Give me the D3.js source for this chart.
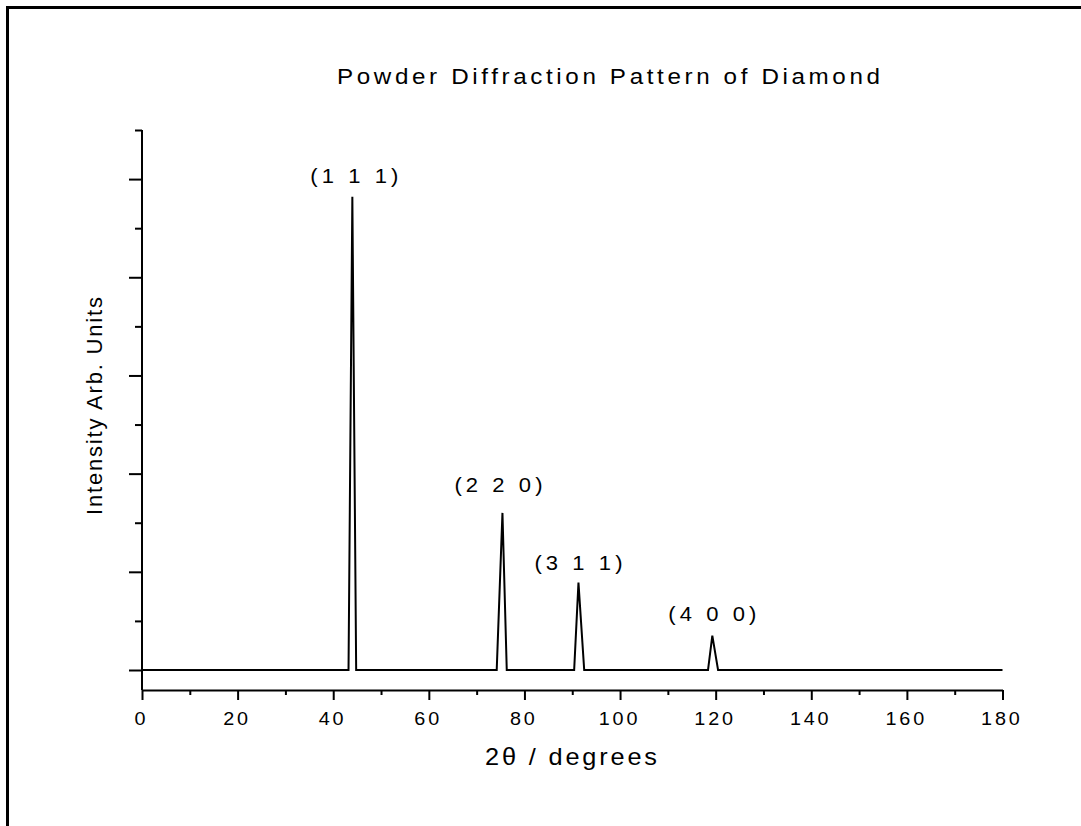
<!DOCTYPE html>
<html>
<head>
<meta charset="utf-8">
<script src="https://cdn.jsdelivr.net/npm/d3@7/dist/d3.min.js"></script>
<style>
  html, body { margin: 0; padding: 0; background: #fff; }
  svg { display: block; }
  text { font-family: "Liberation Sans", Arial, sans-serif; fill: #000; }
</style>
</head>
<body>
<svg id="chart" width="1081" height="826"></svg>
<script>
// Diffractogram trace: 2θ (degrees) and relative intensity
const twoTheta  = [0, 43.2, 44.0, 44.8, 74.2, 75.4, 76.3, 90.4, 91.3, 92.5, 118.4, 119.3, 120.5, 180];
const intensity = [0, 0,    4.82, 0,    0,    1.60, 0,    0,    0.89, 0,    0,     0.35,  0,     0];

// Miller indices of the reflections and their peak positions
const reflections   = ["(1 1 1)", "(2 2 0)", "(3 1 1)", "(4 0 0)"];
const peakTwoTheta  = [44.0, 75.4, 91.3, 119.3];
const peakIntensity = [4.82, 1.60, 0.89, 0.35];

// Axis ticks
const xMajorTicks = [0, 20, 40, 60, 80, 100, 120, 140, 160, 180];
const xMinorTicks = [10, 30, 50, 70, 90, 110, 130, 150, 170];
const yMajorTicks = [0, 1, 2, 3, 4, 5];
const yMinorTicks = [0.5, 1.5, 2.5, 3.5, 4.5, 5.5];

const titleText = "Powder Diffraction Pattern of Diamond";
const xTitle = "2\u03B8 / degrees";
const yTitle = "Intensity Arb. Units";

// slight horizontal widening of the lettering
const SX = 1.1;

const svg = d3.select("#chart");

// page frame (top and left edges)
svg.append("path")
  .attr("d", "M7.5,826 L7.5,7.5 L1081,7.5")
  .attr("fill", "none").attr("stroke", "#000").attr("stroke-width", 3);

const x = d3.scaleLinear().domain([0, 180]).range([142, 1002.5]);
const y = d3.scaleLinear().domain([0, 5.5]).range([670, 130]);
const xAxisY = 690;

// spaced text helper: anchor point (px, py), overall width w on screen
function wideText(str, px, py, size, w, anchor) {
  const t = svg.append("text")
    .attr("transform", `translate(${px},${py}) scale(${SX},1)`)
    .attr("text-anchor", anchor || "start")
    .attr("font-size", size)
    .text(str);
  if (w) t.attr("textLength", w / SX).attr("lengthAdjust", "spacing");
  return t;
}

// y axis: spine runs down to the x axis
svg.append("line")
  .attr("x1", 142).attr("x2", 142)
  .attr("y1", y(5.5)).attr("y2", xAxisY)
  .attr("stroke", "#000").attr("stroke-width", 2);

const yMajor = svg.append("g").attr("transform", "translate(142,0)")
  .call(d3.axisLeft(y).tickValues(yMajorTicks).tickSize(13).tickSizeOuter(0).tickFormat(""));
const yMinor = svg.append("g").attr("transform", "translate(142,0)")
  .call(d3.axisLeft(y).tickValues(yMinorTicks).tickSize(7).tickSizeOuter(0).tickFormat(""));
[yMajor, yMinor].forEach(g => {
  g.select(".domain").remove();
  g.selectAll(".tick line").attr("stroke", "#000").attr("stroke-width", 2);
});

// x axis
const xMajor = svg.append("g").attr("transform", `translate(0,${xAxisY})`)
  .call(d3.axisBottom(x).tickValues(xMajorTicks).tickSize(10).tickSizeOuter(0)
    .tickFormat(d3.format("d")));
const xMinor = svg.append("g").attr("transform", `translate(0,${xAxisY})`)
  .call(d3.axisBottom(x).tickValues(xMinorTicks).tickSize(5).tickSizeOuter(0).tickFormat(""));
xMinor.select(".domain").remove();
xMajor.select(".domain").attr("stroke", "#000").attr("stroke-width", 2);
[xMajor, xMinor].forEach(g => g.selectAll(".tick line").attr("stroke", "#000").attr("stroke-width", 2));
const tickSpacing = 2.6;
xMajor.selectAll(".tick text")
  .attr("font-size", 18)
  .attr("font-family", "Liberation Sans, Arial, sans-serif")
  .attr("fill", "#000")
  .attr("y", null).attr("dy", null)
  .attr("dx", -1)
  .style("letter-spacing", `${tickSpacing}px`)
  .attr("transform", `translate(0,35) scale(${SX},1)`);

// pattern trace
const pts = twoTheta.map((t, i) => [t, intensity[i]]);
svg.append("path")
  .datum(pts)
  .attr("fill", "none")
  .attr("stroke", "#000")
  .attr("stroke-width", 2)
  .attr("stroke-linejoin", "miter")
  .attr("d", d3.line().x(d => x(d[0])).y(d => y(d[1])));

// reflection labels above each peak
const labelGap = [14, 21, 13, 15];
const labelShift = [2, -4, 0, 0];
reflections.forEach((r, i) => {
  wideText(r, x(peakTwoTheta[i]) + labelShift[i], y(peakIntensity[i]) - labelGap[i], 20, 88, "middle");
});

// title
wideText(titleText, 337, 84, 22, 543, "start");

// x axis title
wideText(xTitle, 485, 765, 23, 172, "start");

// y axis title
svg.append("text")
  .attr("transform", "translate(102,406) rotate(-90)")
  .attr("text-anchor", "middle")
  .attr("font-size", 22)
  .attr("textLength", 218)
  .attr("lengthAdjust", "spacing")
  .text(yTitle);
</script>
</body>
</html>
